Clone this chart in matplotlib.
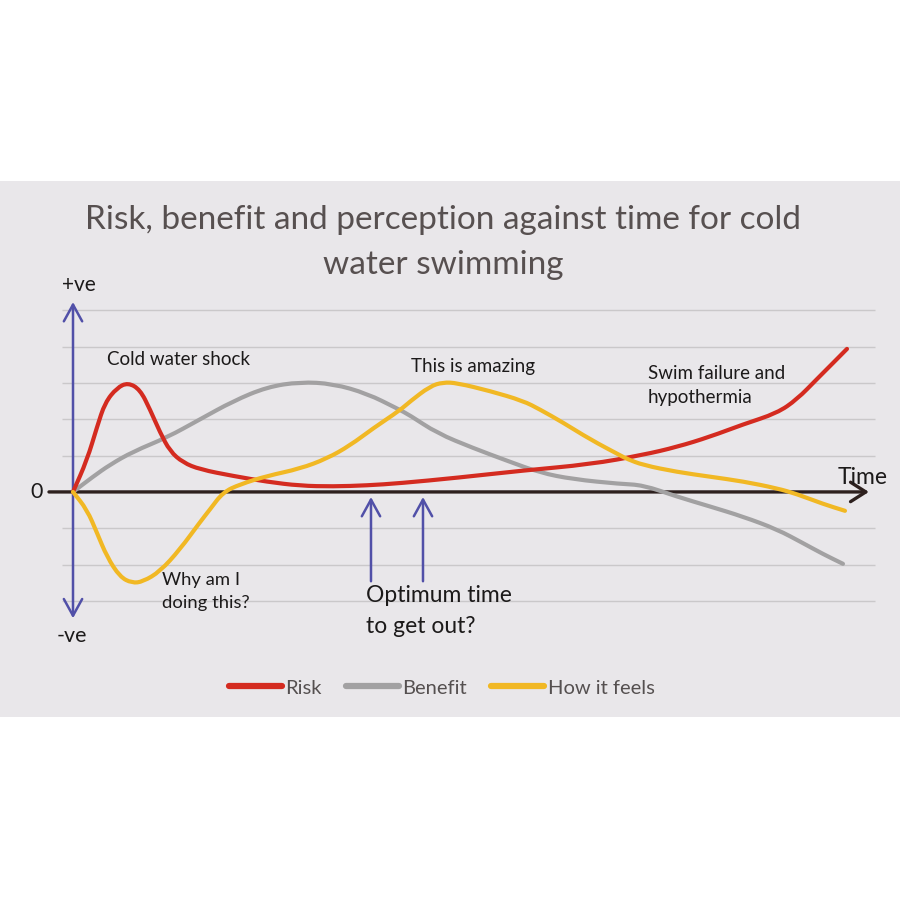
import matplotlib
matplotlib.use('Agg')
import matplotlib.pyplot as plt
from matplotlib.patches import Rectangle, PathPatch
from matplotlib.path import Path
from matplotlib.lines import Line2D

plt.rcParams['font.family'] = ['Lato', 'DejaVu Sans']

# values: time 0..100, y in gridline units
risk_t = [0, 1.81, 3.10, 4.13, 5.68, 7.10, 8.65, 9.94, 11.23, 12.52, 14.19, 16.39, 20.65,
          25.03, 29.29, 33.55, 37.94, 42.19, 49.55, 58.06, 66.71, 73.55, 77.94, 82.19,
          86.45, 90.84, 93.42, 96.0, 98.06, 99.87]
risk_y = [0, 0.88, 1.79, 2.46, 2.87, 3.01, 2.82, 2.27, 1.64, 1.12, 0.81, 0.62, 0.44,
          0.28, 0.17, 0.15, 0.18, 0.24, 0.39, 0.59, 0.76, 1.02, 1.24, 1.52,
          1.86, 2.17, 2.55, 3.11, 3.55, 3.94]

benefit_t = [0, 2.58, 4.77, 7.74, 12.13, 16.39, 20.65, 25.03, 29.29, 33.55, 37.94, 41.81,
             43.48, 46.97, 51.61, 56.0, 60.26, 64.52, 70.58, 73.55, 77.94, 82.19, 86.45,
             90.84, 94.19, 96.77, 99.35]
benefit_y = [0, 0.42, 0.75, 1.11, 1.50, 2.00, 2.50, 2.89, 3.03, 2.98, 2.71, 2.30,
             2.11, 1.62, 1.21, 0.86, 0.53, 0.35, 0.22, 0.19, -0.13, -0.40, -0.68,
             -1.03, -1.41, -1.71, -1.98]

feels_t = [0, 1.81, 3.10, 4.39, 6.06, 7.61, 9.03, 11.23, 13.81, 16.39, 17.68, 19.35, 21.55,
           25.03, 29.29, 32.77, 35.74, 38.71, 42.19, 43.48, 46.06, 47.74, 49.55, 53.81,
           58.06, 60.26, 63.23, 66.71, 70.58, 71.48, 73.55, 77.94, 82.19, 86.45, 90.84,
           93.42, 96.77, 99.61]
feels_y = [0, -0.49, -1.13, -1.79, -2.34, -2.51, -2.47, -2.19, -1.58, -0.83, -0.48, -0.01, 0.21,
           0.44, 0.64, 0.92, 1.28, 1.75, 2.25, 2.49, 2.91, 3.02, 3.0, 2.78,
           2.51, 2.27, 1.91, 1.45, 1.01, 0.91, 0.74, 0.55, 0.42, 0.29, 0.10,
           -0.06, -0.33, -0.52]

grid_levels = [-3, -2, -1, 1, 2, 3, 4, 5]
optimum_t = [38.45, 45.16]

red = '#d42b20'
grey = '#a2a1a2'
yellow = '#f1b824'
blue = '#5150a8'
dark = '#2d201e'
card = '#e9e7ea'


def smooth_line(ax, xs, ys, color, z):
    # quadratic bezier through segment midpoints, data points act as control points
    verts = [(xs[0], ys[0])]
    codes = [Path.MOVETO]
    verts.append(((xs[0] + xs[1]) / 2, (ys[0] + ys[1]) / 2))
    codes.append(Path.LINETO)
    for i in range(1, len(xs) - 1):
        verts.append((xs[i], ys[i]))
        verts.append(((xs[i] + xs[i + 1]) / 2, (ys[i] + ys[i + 1]) / 2))
        codes += [Path.CURVE3, Path.CURVE3]
    verts.append((xs[-1], ys[-1]))
    codes.append(Path.LINETO)
    p = PathPatch(Path(verts, codes), fill=False, edgecolor=color, lw=3.0,
                  capstyle='round', joinstyle='round', zorder=z)
    ax.add_patch(p)


fig = plt.figure(figsize=(9, 9), dpi=100, facecolor='white')

ax = fig.add_axes([0, 0, 1, 1])
ax.set_xlim(-9.42, 106.71)
ax.set_ylim(-11.24, 13.55)
ax.set_axis_off()
ax.add_patch(Rectangle((0, 0.2033), 1, 0.5956, transform=ax.transAxes,
                       facecolor=card, edgecolor='none', zorder=0))

ax.hlines(grid_levels, -1.4, 103.5, color='#cac8ca', lw=1.0, zorder=1)

# axes arrows
ax.annotate('', xy=(102.7, 0), xytext=(-3.1, 0),
            arrowprops=dict(arrowstyle='->,head_length=0.55,head_width=0.35', color=dark,
                            lw=2.4, mutation_scale=20, shrinkA=0, shrinkB=0), zorder=2)
ax.annotate('', xy=(0, 5.23), xytext=(0, -3.48),
            arrowprops=dict(arrowstyle='<->,head_length=0.6,head_width=0.33', color=blue,
                            lw=1.8, mutation_scale=20, shrinkA=0, shrinkB=0), zorder=2)
for t in optimum_t:
    ax.annotate('', xy=(t, -0.14), xytext=(t, -2.46),
                arrowprops=dict(arrowstyle='->,head_length=0.6,head_width=0.33', color=blue,
                                lw=1.8, mutation_scale=20, shrinkA=0, shrinkB=0), zorder=2)

smooth_line(ax, benefit_t, benefit_y, grey, 3)
smooth_line(ax, risk_t, risk_y, red, 4)
smooth_line(ax, feels_t, feels_y, yellow, 5)

txt = '#1c1a1a'
ax.text(-1.42, 5.70, '+ve', fontsize=15, color=txt, ha='left', va='center')
ax.text(-2.06, -3.97, '-ve', fontsize=15.5, color=txt, ha='left', va='center')
ax.text(-4.65, 0, '0', fontsize=15.5, color=txt, ha='center', va='center')
ax.text(98.7, 0.40, 'Time', fontsize=16.5, color=txt, ha='left', va='center')
ax.text(4.39, 3.64, 'Cold water shock', fontsize=13.5, color=txt, ha='left', va='center')
ax.text(43.6, 3.46, 'This is amazing', fontsize=13.5, color=txt, ha='left', va='center')
ax.text(74.2, 2.92, 'Swim failure and\nhypothermia', fontsize=13.5, color=txt,
        ha='left', va='center', linespacing=1.5)
ax.text(11.5, -2.74, 'Why am I\ndoing this?', fontsize=13.3, color=txt,
        ha='left', va='center', linespacing=1.5)
ax.text(37.8, -3.29, 'Optimum time\nto get out?', fontsize=16.5, color=txt,
        ha='left', va='center', linespacing=1.6)

ax.text(0.492, 0.731, 'Risk, benefit and perception against time for cold\nwater swimming',
        transform=ax.transAxes, fontsize=24, color='#575050', ha='center', va='center',
        linespacing=1.62)

handles = [Line2D([], [], color=red, lw=4.5, solid_capstyle='round'),
           Line2D([], [], color=grey, lw=4.5, solid_capstyle='round'),
           Line2D([], [], color=yellow, lw=4.5, solid_capstyle='round')]
leg = ax.legend(handles, ['Risk', 'Benefit', 'How it feels'], loc='center',
                bbox_to_anchor=(0.491, 0.2356), bbox_transform=ax.transAxes, ncol=3,
                frameon=False, fontsize=14.5, handlelength=2.6, handletextpad=0.2,
                columnspacing=1.2)
for t in leg.get_texts():
    t.set_color('#555050')

fig.savefig('out.png', dpi=100, facecolor='white')
